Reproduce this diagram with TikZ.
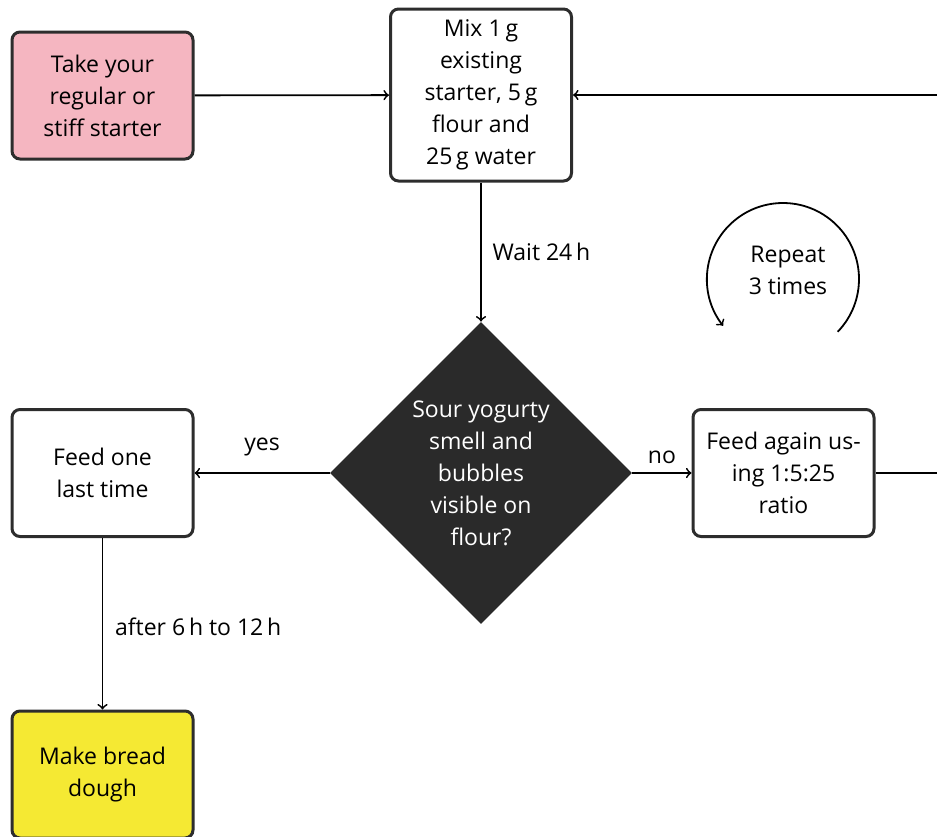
\documentclass[tikz,border=0pt]{standalone}
\usepackage{fontspec}
\setmainfont{Open Sans}
\usetikzlibrary{shapes.geometric}

\definecolor{starterpink}{HTML}{F5B6C1}
\definecolor{doughyellow}{HTML}{F5E933}
\definecolor{edgegray}{HTML}{2D2D2D}
\definecolor{decisiongray}{HTML}{2A2A2A}

\begin{document}
\begin{tikzpicture}[
    x=0.5pt, y=-0.5pt,
    every node/.style={font=\fontsize{11.5}{16}\selectfont},
    stepbox/.style={rectangle, draw=edgegray, line width=1.5pt, rounded corners=4pt,
        fill=white, minimum width=90.5pt, minimum height=63.5pt, align=center, inner sep=2pt},
    decision/.style={diamond, fill=decisiongray, text=white, minimum width=151pt,
        minimum height=151pt, inner sep=0pt, align=center},
    arrow/.style={->, line width=0.9pt},
    line/.style={line width=0.9pt}
]
\useasboundingbox (0,0) rectangle (937,836);

% Steps
\node[stepbox, fill=starterpink] (take) at (102.5,95.5) {Take your\\regular or\\stiff starter};
\node[stepbox, minimum height=86pt] (mix) at (481,95) {Mix 1\,g\\existing\\starter, 5\,g\\flour and\\25\,g water};
\node[decision] (check) at (481,473) {Sour yogurty\\smell and\\bubbles\\visible on\\flour?};
\node[stepbox] (last) at (102.5,473) {Feed one\\last time};
\node[stepbox] (again) at (783.5,473) {Feed again us-\\ing 1:5:25\\ratio};
\node[stepbox, fill=doughyellow] (dough) at (102.5,774.5) {Make bread\\dough};

% Loop back to the mix step
\coordinate (loopr) at (960,473);
\node[align=center] (rep) at (788,270) {Repeat\\3 times};
\coordinate (repc) at (783,279);

% Arrows
\draw[arrow] (take) -- (mix);
\draw[arrow] (mix) -- node[right, xshift=2pt] {Wait 24\,h} (check);
\draw[arrow] (check) -- node[above, yshift=4.5pt] {yes} (last);
\draw[arrow] (check) -- node[above, yshift=1pt] {no} (again);
\draw[arrow] (again.east) -- (loopr) |- (mix.east);
\draw[arrow] (last) -- node[right, xshift=2.5pt, yshift=-1.5pt] {after 6\,h to 12\,h} (dough);
\draw[arrow] ([shift={(-44:38pt)}]repc) arc[start angle=-44, end angle=218, radius=38pt];

\end{tikzpicture}
\end{document}
